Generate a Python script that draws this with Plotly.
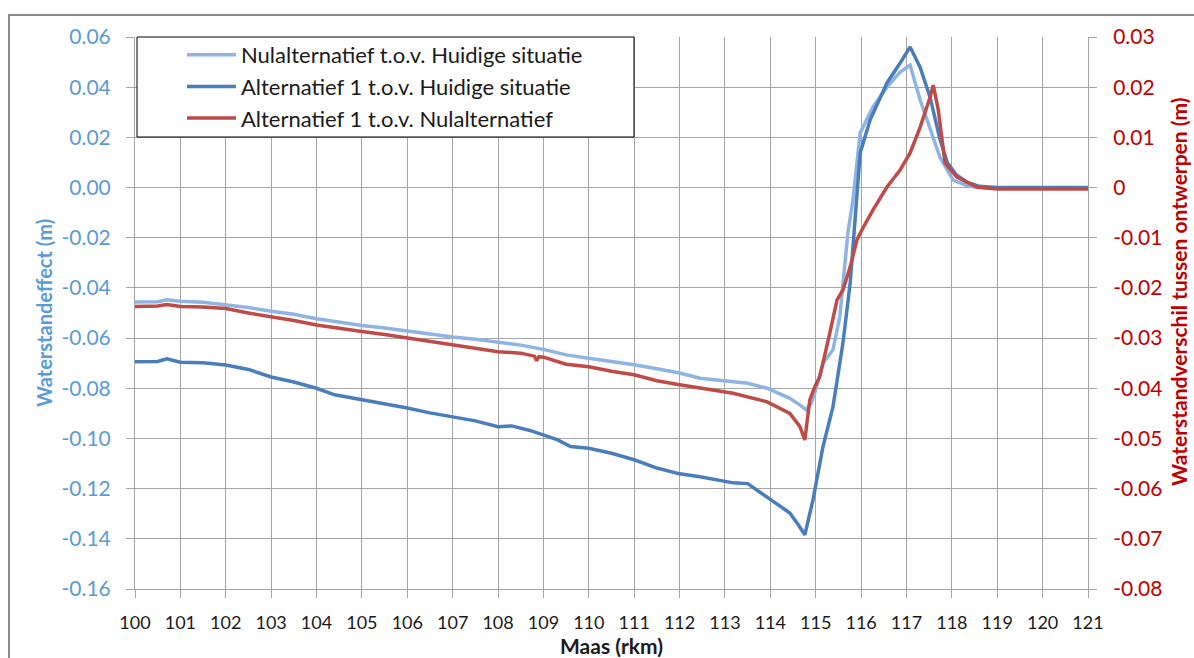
import plotly.graph_objects as go

# ---------------- data ----------------
km_nul = [100.0, 100.5, 100.7, 100.9, 101.0, 101.5, 102.0, 102.5, 103.0, 103.5, 104.0, 104.5,
          105.0, 105.5, 106.0, 106.5, 107.0, 107.5, 108.0, 108.5, 109.0, 109.5, 110.0, 110.5,
          111.0, 111.5, 112.0, 112.45, 113.0, 113.5, 113.93, 114.43, 114.65, 114.79, 114.9,
          114.98, 115.16, 115.38, 115.53, 115.6, 115.71, 115.82, 115.98, 116.26, 116.57, 116.86,
          117.08, 117.3, 117.52, 117.74, 118.03, 118.3, 118.55, 119.0, 120.0, 121.0]
nul_vs_huidig = [-0.0456, -0.0455, -0.0447, -0.0452, -0.0453, -0.0457, -0.0466, -0.0478, -0.0493,
                 -0.0505, -0.0523, -0.0537, -0.0550, -0.0560, -0.0573, -0.0585, -0.0596, -0.0605,
                 -0.0618, -0.0628, -0.0645, -0.0667, -0.0680, -0.0692, -0.0706, -0.0722, -0.0739,
                 -0.0760, -0.0770, -0.0780, -0.0800, -0.0840, -0.0866, -0.0886, -0.0860, -0.0818,
                 -0.0700, -0.0647, -0.0516, -0.0380, -0.0180, -0.0050, 0.0218, 0.0320, 0.0400,
                 0.0460, 0.0488, 0.0350, 0.0240, 0.0120, 0.0030, 0.0010, 0.0000, -0.0002,
                 -0.0002, -0.0002]

km_alt = [100.0, 100.5, 100.7, 100.9, 101.0, 101.5, 102.0, 102.5, 103.0, 103.5, 104.0, 104.4,
          105.0, 105.5, 106.0, 106.5, 107.0, 107.5, 108.0, 108.3, 108.7, 109.0, 109.3, 109.6,
          110.0, 110.5, 111.0, 111.5, 112.0, 112.45, 113.18, 113.5, 113.93, 114.43, 114.6,
          114.76, 114.94, 115.16, 115.38, 115.6, 115.76, 115.87, 115.98, 116.2, 116.57, 116.86,
          117.08, 117.3, 117.52, 117.74, 117.9, 118.1, 118.33, 118.6, 119.0, 121.0]
alt_vs_huidig = [-0.0694, -0.0693, -0.0683, -0.0690, -0.0696, -0.0698, -0.0707, -0.0725, -0.0755,
                 -0.0775, -0.0800, -0.0826, -0.0846, -0.0860, -0.0879, -0.0898, -0.0913, -0.0930,
                 -0.0953, -0.0950, -0.0968, -0.0986, -0.1005, -0.1032, -0.1039, -0.1059, -0.1085,
                 -0.1118, -0.1141, -0.1153, -0.1177, -0.1180, -0.1233, -0.1297, -0.1340, -0.1384,
                 -0.1245, -0.1033, -0.0874, -0.0620, -0.0380, -0.0117, 0.0138, 0.0270, 0.0417,
                 0.0496, 0.0560, 0.0480, 0.0360, 0.0190, 0.0100, 0.0050, 0.0022, 0.0005, 0.0000,
                 0.0000]

km_diff = [100.0, 100.5, 100.7, 101.0, 101.5, 102.0, 102.5, 103.0, 103.5, 104.0, 104.5, 105.0,
           105.5, 106.0, 106.5, 107.0, 107.5, 108.0, 108.5, 108.8, 108.85, 108.9, 109.0, 109.5,
           110.0, 110.5, 111.0, 111.5, 112.0, 112.45, 113.18, 113.93, 114.43, 114.65, 114.76,
           114.87, 114.98, 115.09, 115.2, 115.31, 115.47, 115.6, 115.76, 115.91, 116.02, 116.26,
           116.57, 116.86, 117.08, 117.3, 117.52, 117.59, 117.7, 117.85, 118.11, 118.55, 119.0,
           121.0]
alt_vs_nul = [-0.0237, -0.0236, -0.0233, -0.0237, -0.0238, -0.0241, -0.0250, -0.0257, -0.0265,
              -0.0274, -0.0281, -0.0287, -0.0293, -0.0300, -0.0307, -0.0314, -0.0320, -0.0327,
              -0.0330, -0.0336, -0.0345, -0.0337, -0.0338, -0.0352, -0.0357, -0.0366, -0.0373,
              -0.0385, -0.0393, -0.0400, -0.0410, -0.0427, -0.0450, -0.0476, -0.0503, -0.0423,
              -0.0397, -0.0377, -0.0330, -0.0290, -0.0224, -0.0204, -0.0158, -0.0104, -0.0084,
              -0.0045, 0.0001, 0.0035, 0.0069, 0.0120, 0.0180, 0.0204, 0.0155, 0.0049, 0.0021,
              0.0001, -0.0003, -0.0003]

x_ticks = list(range(100, 122))
y_left_ticks = [0.06, 0.04, 0.02, 0.0, -0.02, -0.04, -0.06, -0.08, -0.10, -0.12, -0.14, -0.16]
y_left_text = ["0.06", "0.04", "0.02", "0.00", "-0.02", "-0.04", "-0.06", "-0.08", "-0.10",
               "-0.12", "-0.14", "-0.16"]
y_right_ticks = [0.03, 0.02, 0.01, 0.0, -0.01, -0.02, -0.03, -0.04, -0.05, -0.06, -0.07, -0.08]
y_right_text = ["0.03", "0.02", "0.01", "0", "-0.01", "-0.02", "-0.03", "-0.04", "-0.05",
                "-0.06", "-0.07", "-0.08"]

names = ["Nulalternatief t.o.v. Huidige situatie",
         "Alternatief 1 t.o.v. Huidige situatie",
         "Alternatief 1 t.o.v. Nulalternatief"]

# ---------------- styling ----------------
C_LIGHT = "#8DB4E2"
C_DARK = "#4A7EBB"
C_RED = "#BE4B48"
C_LEFT_TXT = "#5B9BD5"
C_RIGHT_TXT = "#C00000"
FONT = "Lato"
GRID = "#A6A6A6"

W, H = 1194, 658
ML, MR, MT, MB = 135, 106, 37, 69
PW, PH = W - ML - MR, H - MT - MB


def px_x(p):
    return (p - ML) / PW


def px_y(p):
    return (H - MB - p) / PH


fig = go.Figure()
fig.add_trace(go.Scatter(x=km_nul, y=nul_vs_huidig, name=names[0], mode="lines",
                         line=dict(color=C_LIGHT, width=3.5)))
fig.add_trace(go.Scatter(x=km_alt, y=alt_vs_huidig, name=names[1], mode="lines",
                         line=dict(color=C_DARK, width=3.5)))
fig.add_trace(go.Scatter(x=km_diff, y=alt_vs_nul, name=names[2], mode="lines",
                         line=dict(color=C_RED, width=3.5), yaxis="y2"))

fig.update_layout(
    width=W, height=H,
    margin=dict(l=ML, r=MR, t=MT, b=MB),
    paper_bgcolor="white", plot_bgcolor="white",
    font=dict(family=FONT, size=18, color="black"),
    xaxis=dict(range=[100, 121], tickvals=x_ticks, ticktext=[str(v) for v in x_ticks],
               showgrid=True, gridcolor=GRID, gridwidth=1, zeroline=False,
               showline=True, linecolor=GRID, linewidth=1,
               ticks="outside", ticklen=8, tickcolor=GRID, ticklabelstandoff=9,
               tickfont=dict(family=FONT, size=18, color="#1a1a1a")),
    yaxis=dict(range=[-0.16, 0.06], tickvals=y_left_ticks, ticktext=y_left_text,
               showgrid=True, gridcolor=GRID, gridwidth=1, zeroline=False,
               showline=True, linecolor=GRID, linewidth=1,
               ticks="outside", ticklen=8, tickcolor=GRID, ticklabelstandoff=11,
               tickfont=dict(family=FONT, size=21, color=C_LEFT_TXT)),
    yaxis2=dict(range=[-0.08, 0.03], tickvals=y_right_ticks, ticktext=y_right_text,
                overlaying="y", side="right", showgrid=False, zeroline=False,
                showline=True, linecolor=GRID, linewidth=1,
                ticks="outside", ticklen=8, tickcolor=GRID, ticklabelstandoff=12,
                tickfont=dict(family=FONT, size=21, color=C_RIGHT_TXT)),
    legend=dict(x=px_x(182), y=px_y(34), xanchor="left", yanchor="top",
                bgcolor="rgba(0,0,0,0)", borderwidth=0, itemwidth=49,
                traceorder="normal",
                font=dict(family=FONT, size=22, color="#1a1a1a")),
    showlegend=True,
)

# legend box and outer frame
fig.add_shape(type="rect", xref="paper", yref="paper",
              x0=px_x(137), x1=px_x(634), y0=px_y(137), y1=px_y(37),
              line=dict(color="black", width=1), fillcolor="white", layer="above")
fig.add_shape(type="rect", xref="paper", yref="paper",
              x0=px_x(9), x1=px_x(1210), y0=px_y(680), y1=px_y(15),
              line=dict(color="#8C8C8C", width=2), fillcolor="rgba(0,0,0,0)", layer="above")

# axis titles
fig.add_annotation(text="<b>Waterstandeffect (m)</b>", xref="paper", yref="paper",
                   x=px_x(44), y=px_y(313), textangle=-90, showarrow=False,
                   xanchor="center", yanchor="middle",
                   font=dict(family=FONT, size=20, color=C_LEFT_TXT))
fig.add_annotation(text="<b>Waterstandverschil tussen ontwerpen (m)</b>", xref="paper",
                   yref="paper", x=px_x(1178), y=px_y(292), textangle=-90, showarrow=False,
                   xanchor="center", yanchor="middle",
                   font=dict(family=FONT, size=21, color=C_RIGHT_TXT))
fig.add_annotation(text="<b>Maas (rkm)</b>", xref="paper", yref="paper",
                   x=px_x(611), y=px_y(645), showarrow=False,
                   xanchor="center", yanchor="middle",
                   font=dict(family=FONT, size=21, color="#1a1a1a"))

fig.write_html("out.html")
